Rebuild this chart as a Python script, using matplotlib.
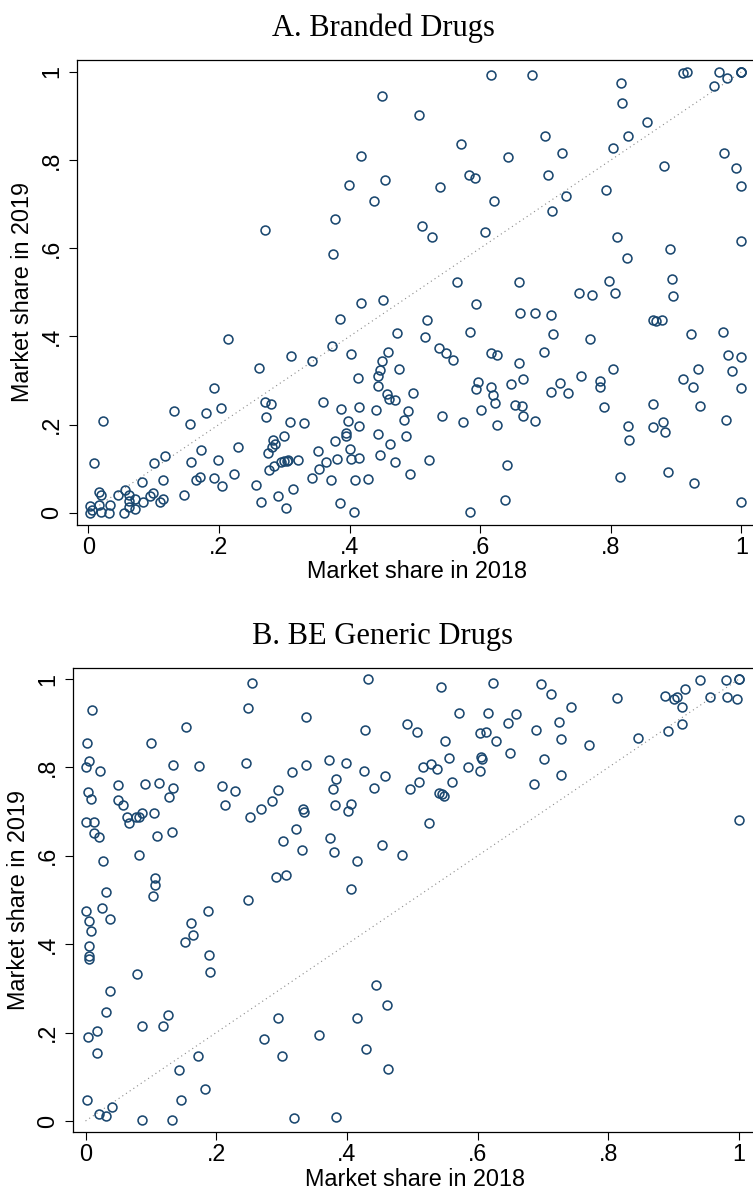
import matplotlib
matplotlib.use("Agg")
import matplotlib.pyplot as plt

# ---------------- data ----------------
branded_2018 = [
    0.449, 0.418, 0.399, 0.455, 0.437, 0.377, 0.271, 0.374,
    0.616, 0.680, 0.911, 0.917, 0.966, 1.0, 1.0, 1.0, 0.978, 0.958, 0.815, 0.817, 0.507, 0.856, 0.570, 0.699,
    0.827, 0.726, 0.803, 0.643, 0.974, 0.881, 0.992, 1.0, 0.583, 0.592, 0.704, 0.539, 0.792, 0.731, 0.621,
    0.710, 0.511, 0.526, 0.607, 0.809, 1.0, 0.891, 0.825, 0.564, 0.660, 0.797, 0.893,
    0.751, 0.771, 0.806, 0.895, 0.594, 0.519, 0.661, 0.684, 0.708, 0.864, 0.869, 0.878, 0.584, 0.515, 0.711,
    0.768, 0.922, 0.971, 0.537, 0.548, 0.559, 0.617, 0.626, 0.697, 0.659, 0.980, 1.0, 0.804, 0.933, 0.985,
    0.497, 0.597, 0.594, 0.617, 0.620, 0.622, 0.647, 0.666, 0.722, 0.708, 0.734, 0.755, 0.784, 0.784, 0.911,
    0.926, 1.0, 0.654, 0.664, 0.665, 0.684, 0.625, 0.601, 0.541, 0.574, 0.790, 0.865, 0.937, 0.880, 0.865,
    0.883, 0.826, 0.828, 0.977, 0.522, 0.641, 0.814, 0.887, 0.927, 0.638, 0.585, 1.0,
    0.451, 0.418, 0.386, 0.472, 0.214, 0.459, 0.373, 0.402, 0.449, 0.311, 0.343, 0.262, 0.446, 0.443, 0.475,
    0.413, 0.443, 0.192, 0.457, 0.460, 0.470, 0.270, 0.280, 0.272, 0.360, 0.387, 0.414, 0.440, 0.489, 0.398,
    0.414, 0.483, 0.394, 0.395, 0.444, 0.486, 0.400, 0.462, 0.378, 0.351, 0.364, 0.381, 0.403, 0.414, 0.446,
    0.470, 0.492, 0.354, 0.343, 0.371, 0.408, 0.429, 0.386, 0.407, 0.300, 0.283, 0.286, 0.281, 0.275, 0.230,
    0.309, 0.331, 0.300, 0.304, 0.306, 0.321, 0.276, 0.285, 0.295, 0.257, 0.264, 0.291, 0.314, 0.303, 0.203,
    0.180, 0.155, 0.131, 0.173, 0.158, 0.198, 0.223, 0.204, 0.192, 0.165, 0.171, 0.147, 0.117, 0.100, 0.115,
    0.082, 0.099, 0.095, 0.115, 0.110, 0.084, 0.072, 0.072, 0.062, 0.063, 0.056, 0.062, 0.055, 0.045, 0.034,
    0.032, 0.020, 0.016, 0.020, 0.016, 0.022, 0.009, 0.003, 0.002, 0.005,
]
branded_2019 = [
    0.946, 0.809, 0.744, 0.754, 0.706, 0.667, 0.641, 0.587,
    0.992, 0.993, 0.998, 1.0, 1.0, 1.0, 1.0, 1.0, 0.986, 0.969, 0.974, 0.929, 0.902, 0.886, 0.837, 0.855,
    0.855, 0.815, 0.827, 0.806, 0.816, 0.786, 0.783, 0.741, 0.766, 0.760, 0.766, 0.739, 0.732, 0.718, 0.707,
    0.685, 0.650, 0.625, 0.636, 0.625, 0.617, 0.598, 0.578, 0.523, 0.523, 0.525, 0.531,
    0.499, 0.494, 0.498, 0.492, 0.474, 0.437, 0.452, 0.452, 0.449, 0.437, 0.435, 0.437, 0.411, 0.399, 0.405,
    0.394, 0.405, 0.411, 0.374, 0.362, 0.346, 0.362, 0.358, 0.365, 0.340, 0.357, 0.353, 0.325, 0.325, 0.322,
    0.272, 0.297, 0.281, 0.284, 0.267, 0.248, 0.293, 0.303, 0.294, 0.273, 0.272, 0.310, 0.298, 0.284, 0.303,
    0.285, 0.283, 0.244, 0.243, 0.220, 0.209, 0.200, 0.233, 0.219, 0.206, 0.240, 0.246, 0.241, 0.206, 0.194,
    0.183, 0.197, 0.164, 0.210, 0.119, 0.107, 0.081, 0.092, 0.067, 0.028, 0.002, 0.024,
    0.482, 0.476, 0.439, 0.408, 0.393, 0.365, 0.379, 0.359, 0.345, 0.356, 0.344, 0.328, 0.323, 0.310, 0.325,
    0.306, 0.287, 0.283, 0.270, 0.258, 0.255, 0.250, 0.247, 0.217, 0.250, 0.235, 0.239, 0.232, 0.231, 0.208,
    0.197, 0.210, 0.180, 0.174, 0.178, 0.175, 0.145, 0.155, 0.162, 0.140, 0.114, 0.121, 0.121, 0.123, 0.131,
    0.114, 0.088, 0.098, 0.078, 0.075, 0.073, 0.077, 0.022, 0.002, 0.174, 0.164, 0.155, 0.148, 0.135, 0.148,
    0.206, 0.203, 0.117, 0.118, 0.120, 0.120, 0.097, 0.106, 0.114, 0.063, 0.024, 0.038, 0.053, 0.010, 0.238,
    0.227, 0.201, 0.230, 0.142, 0.115, 0.120, 0.088, 0.061, 0.078, 0.074, 0.080, 0.039, 0.128, 0.112, 0.075,
    0.069, 0.045, 0.038, 0.032, 0.024, 0.024, 0.030, 0.009, 0.041, 0.027, 0.051, 0.012, 0.0, 0.039, 0.018,
    0.0, 0.002, 0.046, 0.040, 0.017, 0.207, 0.112, 0.014, 0.0, 0.005,
]

generic_2018 = [
    0.254, 0.433, 0.010, 0.248, 0.338, 0.427, 0.492, 0.154, 0.002, 0.100, 0.006, 0.001, 0.022, 0.134, 0.173,
    0.245, 0.316, 0.338, 0.373, 0.398, 0.426, 0.459, 0.384, 0.049, 0.091, 0.113, 0.134, 0.209, 0.229, 0.294,
    0.378, 0.441, 0.497, 0.004, 0.009, 0.050, 0.058, 0.127, 0.213, 0.286, 0.268, 0.252, 0.333, 0.334, 0.382,
    0.406, 0.402, 0.0, 0.013, 0.013, 0.020, 0.063, 0.066, 0.077, 0.082, 0.086, 0.105, 0.109, 0.132, 0.027,
    0.082, 0.322, 0.302, 0.331, 0.374, 0.380, 0.415, 0.453, 0.484, 0.291, 0.307, 0.107, 0.106, 0.407,
    0.544, 0.623, 0.697, 0.712, 0.743, 0.814, 0.941, 0.980, 1.0, 1.0, 0.886, 0.905, 0.901, 0.918, 0.956,
    0.981, 0.997, 0.912, 0.912, 0.892, 0.846, 1.0, 0.571, 0.616, 0.658, 0.646, 0.724, 0.690, 0.727, 0.771,
    0.507, 0.603, 0.613, 0.628, 0.550, 0.649, 0.556, 0.605, 0.606, 0.701, 0.517, 0.529, 0.538, 0.586, 0.603,
    0.511, 0.561, 0.686, 0.728, 0.541, 0.545, 0.549, 0.525,
    0.031, 0.104, 0.248, 0.0, 0.025, 0.005, 0.008, 0.037, 0.005, 0.005, 0.005, 0.187, 0.162, 0.164, 0.153,
    0.189, 0.190, 0.079, 0.037, 0.031, 0.086, 0.118, 0.126, 0.004, 0.018, 0.017, 0.172, 0.143, 0.183, 0.146,
    0.003, 0.041, 0.020, 0.032, 0.087, 0.133, 0.295, 0.273, 0.300, 0.319, 0.357, 0.383, 0.416, 0.444, 0.461,
    0.429, 0.463,
]
generic_2019 = [
    0.990, 0.999, 0.931, 0.934, 0.913, 0.885, 0.898, 0.892, 0.855, 0.856, 0.814, 0.801, 0.792, 0.805, 0.803,
    0.809, 0.790, 0.805, 0.817, 0.811, 0.792, 0.780, 0.774, 0.761, 0.763, 0.765, 0.753, 0.759, 0.747, 0.748,
    0.751, 0.753, 0.751, 0.744, 0.728, 0.726, 0.714, 0.732, 0.715, 0.724, 0.706, 0.688, 0.707, 0.698, 0.716,
    0.718, 0.702, 0.676, 0.676, 0.651, 0.643, 0.687, 0.675, 0.688, 0.688, 0.696, 0.696, 0.645, 0.654, 0.588,
    0.602, 0.660, 0.634, 0.614, 0.641, 0.609, 0.588, 0.625, 0.601, 0.551, 0.556, 0.549, 0.534, 0.526,
    0.982, 0.992, 0.988, 0.967, 0.936, 0.957, 0.998, 0.998, 1.0, 1.0, 0.962, 0.960, 0.955, 0.978, 0.959,
    0.959, 0.954, 0.936, 0.898, 0.882, 0.866, 0.680, 0.922, 0.924, 0.921, 0.900, 0.902, 0.885, 0.864, 0.851,
    0.880, 0.877, 0.879, 0.859, 0.859, 0.833, 0.821, 0.824, 0.819, 0.818, 0.802, 0.808, 0.796, 0.802, 0.792,
    0.767, 0.766, 0.763, 0.782, 0.741, 0.739, 0.735, 0.674,
    0.517, 0.508, 0.499, 0.476, 0.482, 0.452, 0.429, 0.458, 0.397, 0.373, 0.366, 0.474, 0.447, 0.421, 0.405,
    0.375, 0.337, 0.332, 0.293, 0.247, 0.216, 0.214, 0.240, 0.191, 0.204, 0.154, 0.146, 0.115, 0.072, 0.047,
    0.047, 0.032, 0.016, 0.011, 0.003, 0.002, 0.234, 0.186, 0.146, 0.007, 0.195, 0.008, 0.233, 0.307, 0.262,
    0.163, 0.117,
]

tick_vals = [0, 0.2, 0.4, 0.6, 0.8, 1.0]
tick_labels = ["0", ".2", ".4", ".6", ".8", "1"]
panel_titles = ["A. Branded Drugs", "B. BE Generic Drugs"]
x_label = "Market share in 2018"
y_label = "Market share in 2019"

# ---------------- layout ----------------
W, H = 753, 1194
fig = plt.figure(figsize=(W / 100, H / 100), dpi=100)
fig.patch.set_facecolor("white")

SANS = ["Liberation Sans", "DejaVu Sans"]
SERIF = ["Liberation Serif", "DejaVu Serif"]
FS = 16.8
NAVY = "#1a476f"


def px_axes(left, right, top, bottom):
    return fig.add_axes([left / W, 1 - bottom / H, (right - left) / W, (bottom - top) / H])


panels = [
    dict(box=(76.7, 757, 60, 525), xlim=(-0.0177, 1.0238), ylim=(-0.028, 1.027),
         x=branded_2018, y=branded_2019, title_y=36),
    dict(box=(72.7, 757, 668, 1132), xlim=(-0.0196, 1.0275), ylim=(-0.0249, 1.0249),
         x=generic_2018, y=generic_2019, title_y=644),
]

for i, p in enumerate(panels):
    ax = px_axes(*p["box"])
    ax.set_xlim(*p["xlim"])
    ax.set_ylim(*p["ylim"])
    ax.plot([0, 1], [0, 1], color="#8a8a8a", lw=0.8, ls=(0, (1, 3)), zorder=1)
    ax.plot(p["x"], p["y"], ls="none", marker="o", ms=6.4, mfc="none", mec=NAVY, mew=1.15,
            zorder=3, clip_on=False)
    ax.set_xticks(tick_vals)
    ax.set_xticklabels(tick_labels, fontsize=FS, family=SANS)
    ax.set_yticks(tick_vals)
    ax.set_yticklabels(tick_labels, fontsize=FS, family=SANS, rotation=90, va="center")
    ax.tick_params(axis="both", direction="out", length=6, width=0.8, color="black")
    ax.tick_params(axis="x", pad=2)
    ax.tick_params(axis="y", pad=4)
    for s in ax.spines.values():
        s.set_color("black")
        s.set_linewidth(0.9)
    ax.set_xlabel(x_label, fontsize=FS, family=SANS, labelpad=1)
    ax.set_ylabel(y_label, fontsize=FS, family=SANS, labelpad=4)
    fig.text(383 / W, 1 - p["title_y"] / H, panel_titles[i], ha="center", va="baseline",
             fontsize=22, family=SERIF)

fig.savefig("out.png", dpi=100, facecolor="white")
